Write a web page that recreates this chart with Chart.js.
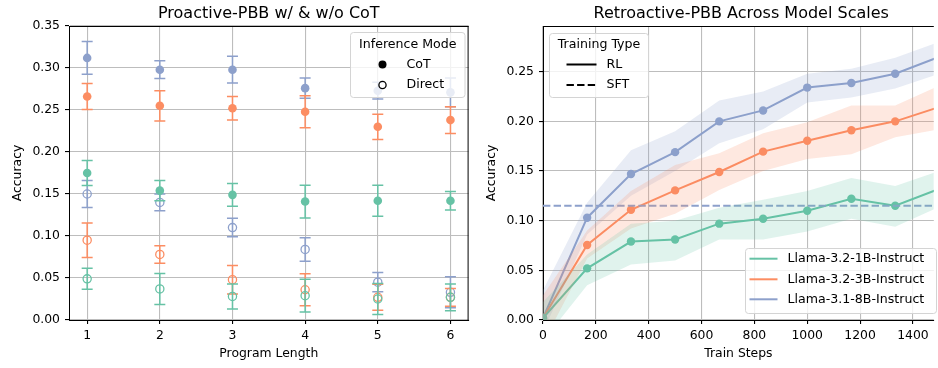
<!DOCTYPE html>
<html>
<head>
<meta charset="utf-8">
<title>PBB accuracy</title>
<script src="https://cdn.jsdelivr.net/npm/chart.js@4.4.0/dist/chart.umd.min.js"></script>
<style>
  body { margin: 0; background: #fff; }
  #wrap { position: relative; width: 938px; height: 368px; overflow: hidden; }
  #left { position: absolute; left: 0; top: 0; }
  #right { position: absolute; left: 474px; top: 0; }
</style>
</head>
<body>
<div id="wrap">
  <canvas id="left" width="474" height="368"></canvas>
  <canvas id="right" width="464" height="368"></canvas>
</div>
<script>
var GREEN = "#66c2a5", ORANGE = "#fc8d62", BLUE = "#8da0cb";
var GRID = "#bdbdbd";
var FONT = "'DejaVu Sans', sans-serif";

// ---- proactive: accuracy vs program length ----
var lengths = [1, 2, 3, 4, 5, 6];
var models = ["Llama-3.2-1B-Instruct", "Llama-3.2-3B-Instruct", "Llama-3.1-8B-Instruct"];

var cot1B = [0.175, 0.154, 0.149, 0.141, 0.142, 0.142];
var cot1BErr = [0.015, 0.012, 0.0135, 0.0195, 0.0185, 0.011];
var cot3B = [0.266, 0.255, 0.252, 0.248, 0.230, 0.238];
var cot3BErr = [0.0155, 0.018, 0.014, 0.019, 0.015, 0.016];
var cot8B = [0.312, 0.298, 0.298, 0.276, 0.273, 0.271];
var cot8BErr = [0.0195, 0.0105, 0.016, 0.012, 0.010, 0.017];

var direct1B = [0.049, 0.037, 0.028, 0.029, 0.025, 0.027];
var direct1BErr = [0.0125, 0.0185, 0.015, 0.0195, 0.0185, 0.016];
var direct3B = [0.095, 0.078, 0.048, 0.036, 0.027, 0.027];
var direct3BErr = [0.0205, 0.0105, 0.017, 0.019, 0.0155, 0.0105];
var direct8B = [0.150, 0.140, 0.110, 0.084, 0.045, 0.033];
var direct8BErr = [0.016, 0.010, 0.011, 0.014, 0.0115, 0.0185];

var leftXTicks = [1, 2, 3, 4, 5, 6];
var leftYTicks = [0, 0.05, 0.10, 0.15, 0.20, 0.25, 0.30, 0.35];

// ---- retroactive: accuracy vs train steps ----
var steps = [0, 167, 333, 500, 667, 833, 1000, 1167, 1333, 1500];
var rl1B = [0.002, 0.052, 0.079, 0.081, 0.097, 0.102, 0.110, 0.122, 0.115, 0.132];
var rl1BLo = [-0.021, 0.035, 0.056, 0.060, 0.081, 0.081, 0.089, 0.102, 0.094, 0.114];
var rl1BHi = [0.018, 0.066, 0.097, 0.100, 0.113, 0.121, 0.130, 0.143, 0.135, 0.150];
var rl3B = [0.002, 0.0755, 0.111, 0.1305, 0.149, 0.1695, 0.1805, 0.191, 0.200, 0.2145];
var rl3BLo = [-0.023, 0.062, 0.092, 0.107, 0.131, 0.150, 0.162, 0.167, 0.184, 0.192];
var rl3BHi = [0.025, 0.090, 0.130, 0.156, 0.168, 0.188, 0.199, 0.216, 0.216, 0.236];
var rl8B = [0.002, 0.103, 0.147, 0.169, 0.200, 0.211, 0.234, 0.2386, 0.248, 0.265];
var rl8BLo = [-0.012, 0.086, 0.125, 0.150, 0.178, 0.192, 0.219, 0.224, 0.233, 0.248];
var rl8BHi = [0.030, 0.118, 0.171, 0.190, 0.221, 0.230, 0.248, 0.253, 0.264, 0.280];
var sft8B = 0.115;

var rightXTicks = [0, 200, 400, 600, 800, 1000, 1200, 1400];
var rightYTicks = [0, 0.05, 0.10, 0.15, 0.20, 0.25];

function pts(xs, ys) {
  return xs.map(function (x, i) { return { x: x, y: ys[i] }; });
}

function fade(hex, a) {
  var n = parseInt(hex.slice(1), 16);
  return "rgba(" + (n >> 16) + "," + ((n >> 8) & 255) + "," + (n & 255) + "," + a + ")";
}

// vertical error bars with caps, drawn under each dataset's markers
var errorBars = {
  id: "errorBars",
  beforeDatasetDraw: function (chart, args) {
    var ds = chart.data.datasets[args.index];
    if (!ds.errors) return;
    var ctx = chart.ctx, sx = chart.scales.x, sy = chart.scales.y;
    ctx.save();
    ctx.strokeStyle = ds.borderColor;
    ctx.lineWidth = 1.5;
    ds.data.forEach(function (p, i) {
      var px = sx.getPixelForValue(p.x);
      var top = sy.getPixelForValue(p.y + ds.errors[i]);
      var bot = sy.getPixelForValue(p.y - ds.errors[i]);
      ctx.beginPath();
      ctx.moveTo(px, top); ctx.lineTo(px, bot);
      ctx.moveTo(px - 5.5, top); ctx.lineTo(px + 5.5, top);
      ctx.moveTo(px - 5.5, bot); ctx.lineTo(px + 5.5, bot);
      ctx.stroke();
    });
    ctx.restore();
  }
};

// top / right spines plus the axes title, centred over the full axes span
function frame(withRight, title, spanEnd) {
  return {
    id: "frame",
    afterDraw: function (chart) {
      var a = chart.chartArea, ctx = chart.ctx;
      ctx.save();
      ctx.strokeStyle = "#000";
      ctx.lineWidth = 1;
      ctx.beginPath();
      ctx.moveTo(a.left, a.top + 0.5);
      ctx.lineTo(a.right, a.top + 0.5);
      if (withRight) {
        ctx.moveTo(a.right - 0.5, a.top);
        ctx.lineTo(a.right - 0.5, a.bottom);
      }
      ctx.stroke();

      var right = spanEnd == null ? a.right : chart.scales.x.getPixelForValue(spanEnd);
      ctx.font = "16px " + FONT;
      ctx.fillStyle = "#000";
      ctx.textAlign = "center";
      ctx.textBaseline = "middle";
      ctx.fillText(title, (a.left + right) / 2, 13.5);
      ctx.restore();
    }
  };
}

// boxed legend in matplotlib style
function boxLegend(spec) {
  return {
    id: "boxLegend" + spec.key,
    afterDraw: function (chart) {
      var ctx = chart.ctx;
      ctx.save();
      var r = 3, x = spec.x, y = spec.y, w = spec.w, h = spec.h;
      ctx.beginPath();
      ctx.moveTo(x + r, y);
      ctx.arcTo(x + w, y, x + w, y + h, r);
      ctx.arcTo(x + w, y + h, x, y + h, r);
      ctx.arcTo(x, y + h, x, y, r);
      ctx.arcTo(x, y, x + w, y, r);
      ctx.closePath();
      ctx.fillStyle = "rgba(255,255,255,0.8)";
      ctx.fill();
      ctx.strokeStyle = "#d4d4d4";
      ctx.lineWidth = 1;
      ctx.stroke();

      ctx.font = "12.6px " + FONT;
      ctx.fillStyle = "#000";
      ctx.textBaseline = "middle";
      if (spec.title) {
        ctx.textAlign = "center";
        ctx.fillText(spec.title, x + w / 2, spec.titleY);
      }
      ctx.textAlign = "left";
      spec.items.forEach(function (it, i) {
        var ry = spec.rows[i];
        ctx.strokeStyle = it.color;
        ctx.fillStyle = it.color;
        if (it.kind === "dot") {
          ctx.beginPath(); ctx.arc(spec.markX, ry, 4, 0, Math.PI * 2); ctx.fill();
        } else if (it.kind === "ring") {
          ctx.lineWidth = 1.3;
          ctx.beginPath(); ctx.arc(spec.markX, ry, 3.6, 0, Math.PI * 2); ctx.stroke();
        } else {
          ctx.lineWidth = 2;
          ctx.setLineDash(it.dash || []);
          ctx.beginPath(); ctx.moveTo(spec.lineX0, ry); ctx.lineTo(spec.lineX1, ry); ctx.stroke();
          ctx.setLineDash([]);
        }
        ctx.fillStyle = "#000";
        ctx.fillText(it.label, spec.textX, ry);
      });
      ctx.restore();
    }
  };
}

function axis(opts) {
  return {
    type: "linear",
    min: opts.min,
    max: opts.max,
    afterBuildTicks: function (s) { s.ticks = opts.ticks.map(function (v) { return { value: v }; }); },
    afterFit: function (s) { if (opts.width) s.width = opts.width; if (opts.height) s.height = opts.height; },
    ticks: {
      autoSkip: false, maxRotation: 0, color: "#000", padding: opts.pad,
      font: { family: FONT, size: 12.4 },
      callback: opts.fmt
    },
    grid: { color: GRID, lineWidth: 1.1, tickColor: "#000", tickLength: 4, drawTicks: true },
    border: { color: "#000", width: 1 },
    title: {
      display: true, text: opts.title, color: "#000",
      font: { family: FONT, size: 12.4 },
      padding: opts.titlePad
    }
  };
}

function errDataset(ys, errs, color, filled) {
  return {
    data: pts(lengths, ys),
    errors: errs,
    borderColor: color,
    pointBackgroundColor: filled ? color : "rgba(0,0,0,0)",
    pointBorderColor: color,
    pointBorderWidth: filled ? 0 : 1.3,
    pointRadius: filled ? 4.3 : 4.1,
    showLine: false
  };
}

new Chart(document.getElementById("left"), {
  type: "scatter",
  data: {
    datasets: [
      errDataset(cot1B, cot1BErr, GREEN, true),
      errDataset(direct1B, direct1BErr, GREEN, false),
      errDataset(cot3B, cot3BErr, ORANGE, true),
      errDataset(direct3B, direct3BErr, ORANGE, false),
      errDataset(cot8B, cot8BErr, BLUE, true),
      errDataset(direct8B, direct8BErr, BLUE, false)
    ]
  },
  options: {
    responsive: false, animation: false, events: [],
    layout: { padding: { left: 0, right: 3, top: 26, bottom: 0 } },
    plugins: { legend: { display: false }, tooltip: { enabled: false }, title: { display: false } },
    scales: {
      x: axis({ min: 0.75, max: 6.25, ticks: leftXTicks, height: 48, pad: 4, title: "Program Length",
                fmt: function (v) { return String(v); }, titlePad: { top: 0, bottom: 7 } }),
      y: axis({ min: 0, max: 0.35, ticks: leftYTicks, width: 69, pad: 5, title: "Accuracy",
                fmt: function (v) { return v.toFixed(2); }, titlePad: { top: 10, bottom: 0 } })
    }
  },
  plugins: [errorBars, frame(true, "Proactive-PBB w/ & w/o CoT", null), boxLegend({
    key: "mode", x: 350.5, y: 32.5, w: 114.5, h: 65, title: "Inference Mode", titleY: 44.5,
    markX: 382.5, textX: 406.5, rows: [64.5, 85],
    items: [
      { kind: "dot", color: "#000", label: "CoT" },
      { kind: "ring", color: "#000", label: "Direct" }
    ]
  })]
});

function band(hi, lo, color) {
  return [
    { data: pts(steps, hi), fill: "+1", backgroundColor: fade(color, 0.2), borderWidth: 0, pointRadius: 0 },
    { data: pts(steps, lo), fill: false, borderWidth: 0, pointRadius: 0 }
  ];
}

function curve(ys, color, label) {
  return {
    label: label, data: pts(steps, ys), borderColor: color, borderWidth: 2,
    pointRadius: 4.2, pointBackgroundColor: color, pointBorderWidth: 0, fill: false, clip: 0
  };
}

var rightCurves = [curve(rl1B, GREEN, models[0]), curve(rl3B, ORANGE, models[1]), curve(rl8B, BLUE, models[2])];

new Chart(document.getElementById("right"), {
  type: "line",
  data: {
    datasets: [].concat(
      band(rl1BHi, rl1BLo, GREEN),
      band(rl3BHi, rl3BLo, ORANGE),
      band(rl8BHi, rl8BLo, BLUE),
      [{
        data: [{ x: steps[0], y: sft8B }, { x: steps[steps.length - 1], y: sft8B }],
        borderColor: BLUE, borderWidth: 2, borderDash: [7.4, 3.2], pointRadius: 0, fill: false
      }],
      rightCurves
    )
  },
  options: {
    responsive: false, animation: false, events: [],
    layout: { padding: { left: 0, right: 0, top: 26, bottom: 0 } },
    plugins: { legend: { display: false }, tooltip: { enabled: false }, title: { display: false } },
    scales: {
      x: axis({ min: 0, max: 1479, ticks: rightXTicks, height: 48, pad: 4, title: "Train Steps",
                fmt: function (v) { return String(v); }, titlePad: { top: 0, bottom: 7 } }),
      y: axis({ min: 0, max: 0.296, ticks: rightYTicks, width: 69, pad: 5, title: "Accuracy",
                fmt: function (v) { return v.toFixed(2); }, titlePad: { top: 10, bottom: 0 } })
    }
  },
  plugins: [frame(false, "Retroactive-PBB Across Model Scales", 1500),
    boxLegend({
      key: "type", x: 75.5, y: 33.5, w: 99, h: 64, title: "Training Type", titleY: 44.5,
      lineX0: 92.5, lineX1: 122.5, textX: 132.5, rows: [64.5, 85],
      items: [
        { kind: "line", color: "#000", label: "RL" },
        { kind: "line", color: "#000", label: "SFT", dash: [7.4, 3.2] }
      ]
    }),
    boxLegend({
      key: "model", x: 271.5, y: 248.5, w: 191, h: 65, titleY: 0,
      lineX0: 275.5, lineX1: 303.5, textX: 313.5, rows: [258.7, 279.3, 299.3],
      items: rightCurves.map(function (c) { return { kind: "line", color: c.borderColor, label: c.label }; })
    })
  ]
});
</script>
</body>
</html>
